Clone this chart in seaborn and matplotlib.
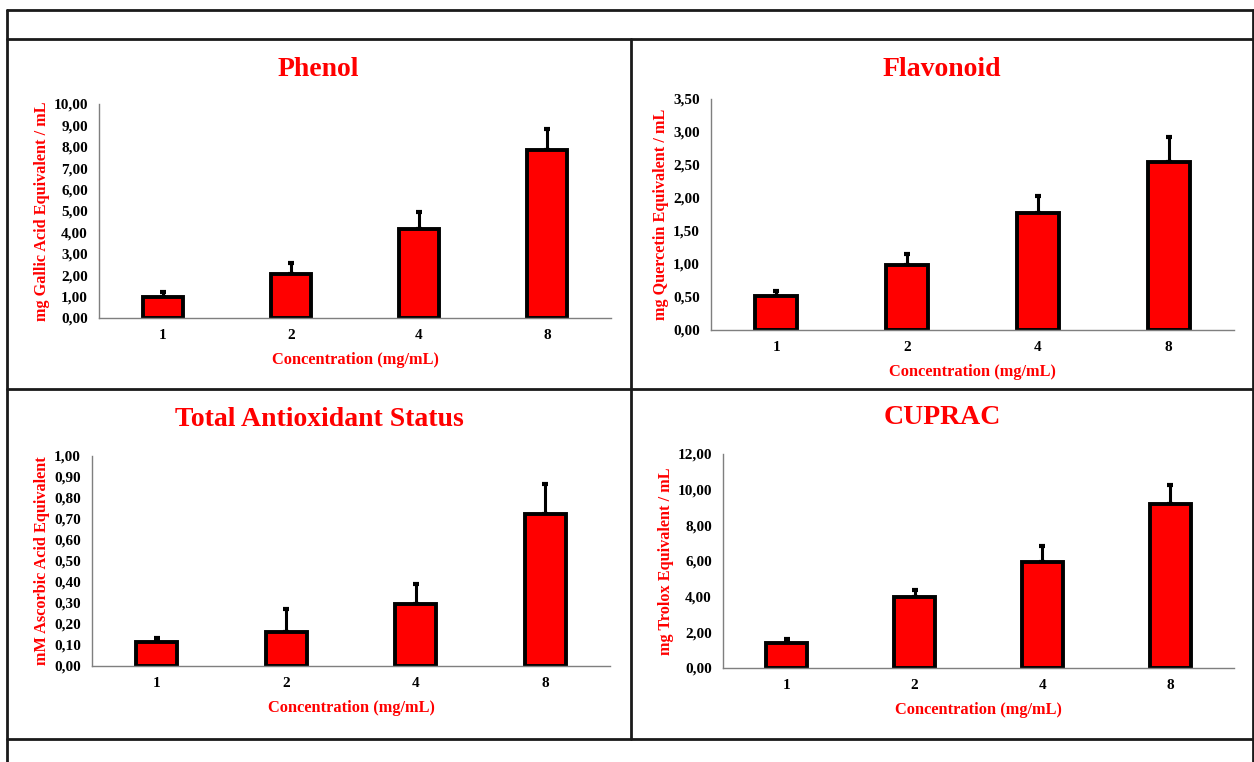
import pandas as pd
import seaborn as sns
import matplotlib.pyplot as plt
from matplotlib.lines import Line2D
from matplotlib.ticker import FuncFormatter, MultipleLocator

# ── Data ────────────────────────────────────────────────────────────────
concentrations = ['1', '2', '4', '8']

phenol_mean = [0.99, 2.06, 4.16, 7.85]
phenol_err = [0.21, 0.49, 0.79, 0.97]

flavonoid_mean = [0.52, 0.98, 1.77, 2.55]
flavonoid_err = [0.07, 0.17, 0.26, 0.38]

tas_mean = [0.112, 0.164, 0.294, 0.723]
tas_err = [0.021, 0.106, 0.096, 0.146]

cuprac_mean = [1.39, 3.99, 5.96, 9.20]
cuprac_err = [0.26, 0.38, 0.88, 1.07]

RED = '#FF0000'
W, H = 1254, 762

sns.set_style('white')
plt.rcParams['font.family'] = ['Liberation Serif', 'DejaVu Serif']
plt.rcParams['font.weight'] = 'bold'

fig = plt.figure(figsize=(W / 100, H / 100), dpi=100)


def px(x, y):
    # pixel (from top-left) -> figure fraction
    return x / W, 1 - y / H


def hline(y, x0=7, x1=1253, lw=2.0):
    a, b = px(x0, y)
    c, _ = px(x1, y)
    fig.add_artist(Line2D([a, c], [b, b], color='#1a1a1a', lw=lw))


def vline(x, y0, y1, lw=2.0):
    a, b = px(x, y0)
    _, d = px(x, y1)
    fig.add_artist(Line2D([a, a], [b, d], color='#1a1a1a', lw=lw))


# table frame
hline(9.5)
hline(39)
hline(389)
hline(739)
vline(7, 9.5, 762)
vline(1252.5, 9.5, 762)
vline(630.5, 39, 739)


def comma(v, _):
    return f'{v:.2f}'.replace('.', ',')


panels = [
    dict(title='Phenol', mean=phenol_mean, err=phenol_err,
         ylabel='mg Gallic Acid Equivalent / mL', ymax=10, step=1,
         box=(99, 104, 611, 318), tpos=(318, 70), ylab_dx=49),
    dict(title='Flavonoid', mean=flavonoid_mean, err=flavonoid_err,
         ylabel='mg Quercetin Equivalent / mL', ymax=3.5, step=0.5,
         box=(711, 99, 1234, 330), tpos=(942, 69), ylab_dx=42),
    dict(title='Total Antioxidant Status', mean=tas_mean, err=tas_err,
         ylabel='mM Ascorbic Acid Equivalent', ymax=1.0, step=0.1,
         box=(92, 456, 610, 666), tpos=(319, 420), ylab_dx=42),
    dict(title='CUPRAC', mean=cuprac_mean, err=cuprac_err,
         ylabel='mg Trolox Equivalent / mL', ymax=12, step=2,
         box=(723, 454, 1234, 668), tpos=(942, 418), ylab_dx=49),
]

for p in panels:
    x0, y0, x1, y1 = p['box']
    ax = fig.add_axes([x0 / W, 1 - y1 / H, (x1 - x0) / W, (y1 - y0) / H])
    df = pd.DataFrame({'Concentration': concentrations, 'Value': p['mean']})

    ax.errorbar(range(len(concentrations)), p['mean'],
                yerr=[[0] * len(p['err']), p['err']],
                fmt='none', ecolor='black', elinewidth=2.2, capsize=2.4,
                capthick=3, zorder=1)
    sns.barplot(data=df, x='Concentration', y='Value', order=concentrations,
                color=RED, saturation=1, edgecolor='black', linewidth=2.8,
                width=0.32, errorbar=None, ax=ax, zorder=2)

    ax.set_xlim(-0.5, len(concentrations) - 0.5)
    ax.set_ylim(0, p['ymax'])
    ax.yaxis.set_major_locator(MultipleLocator(p['step']))
    ax.yaxis.set_major_formatter(FuncFormatter(comma))

    for side in ['top', 'right']:
        ax.spines[side].set_visible(False)
    for side in ['left', 'bottom']:
        ax.spines[side].set_color('#7f7f7f')
        ax.spines[side].set_linewidth(1.0)
    ax.tick_params(axis='both', length=0, labelsize=11, colors='black')
    ax.tick_params(axis='y', pad=8)
    ax.tick_params(axis='x', pad=8)
    for t in ax.get_xticklabels() + ax.get_yticklabels():
        t.set_fontweight('bold')

    ax.set_xlabel('Concentration (mg/mL)', color=RED, fontsize=11.8,
                  fontweight='bold', labelpad=7)
    ax.set_ylabel(p['ylabel'], color=RED, fontsize=11.7, fontweight='bold')
    ax.yaxis.set_label_coords(-p['ylab_dx'] / (x1 - x0), 0.5)

    tx, ty = px(*p['tpos'])
    fig.text(tx, ty, p['title'], color=RED, fontsize=20,
             fontweight='bold', ha='center', va='center')

fig.savefig('out.png', dpi=100, facecolor='white')
